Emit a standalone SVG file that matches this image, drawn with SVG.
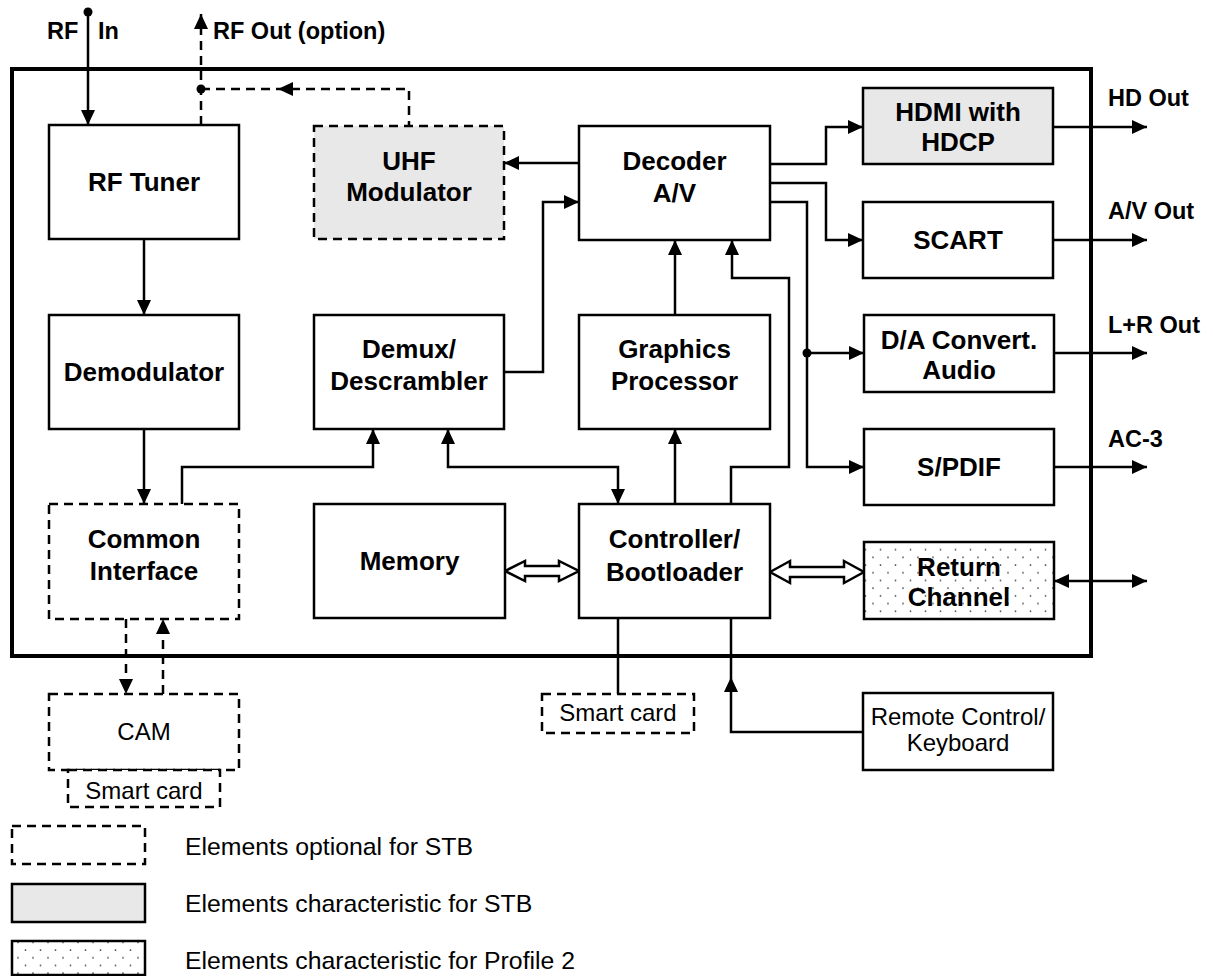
<svg xmlns="http://www.w3.org/2000/svg" width="1213" height="976" viewBox="0 0 1213 976">
<defs>
<style>
.box{fill:#fff;stroke:#000;stroke-width:2.5}
.gray{fill:#e8e8e8}
.dotted{fill:url(#dots)}
.dash{stroke-dasharray:9 6}
.ln{fill:none;stroke:#000;stroke-width:2.5}
.dl{fill:none;stroke:#000;stroke-width:2.5;stroke-dasharray:9 6}
.hol{fill:#fff;stroke:#000;stroke-width:2.5;stroke-linejoin:miter}
.b{font-family:"Liberation Sans",Arial,sans-serif;font-weight:bold;font-size:26px;text-anchor:middle;fill:#000}
.o{font-family:"Liberation Sans",Arial,sans-serif;font-weight:bold;font-size:23.5px;fill:#000}
.r{font-family:"Liberation Sans",Arial,sans-serif;font-size:24px;text-anchor:middle;fill:#000}
.lg{font-family:"Liberation Sans",Arial,sans-serif;font-size:24.8px;fill:#000}
</style>
<marker id="arr" markerUnits="userSpaceOnUse" markerWidth="16" markerHeight="14" refX="15" refY="7" orient="auto">
<path d="M0,0 L15,7 L0,14 z" fill="#000"/>
</marker>
<marker id="arrS" markerUnits="userSpaceOnUse" markerWidth="16" markerHeight="14" refX="15" refY="7" orient="auto-start-reverse">
<path d="M0,0 L15,7 L0,14 z" fill="#000"/>
</marker>
<pattern id="dots" width="15" height="15.4" patternUnits="userSpaceOnUse">
<rect width="15" height="15.4" fill="#fff"/>
<circle cx="3" cy="3" r="0.9" fill="#444"/>
<circle cx="10.5" cy="10.7" r="0.9" fill="#444"/>
</pattern>
</defs>
<rect width="1213" height="976" fill="#fff"/>

<rect id="frame" x="12" y="69" width="1079" height="587" fill="none" stroke="#000" stroke-width="4"/>

<g id="connectors">
<circle cx="88" cy="12" r="4.5" fill="#000"/>
<line class="ln" x1="88" y1="12" x2="88" y2="125" marker-end="url(#arr)"/>
<line class="dl" x1="201" y1="125" x2="201" y2="14" marker-end="url(#arr)"/>
<circle cx="201" cy="89" r="4.5" fill="#000"/>
<polyline class="dl" points="201,89 409,89 409,126"/>
<polygon points="278,89 293,82 293,96" fill="#000"/>
<line class="ln" x1="144" y1="239" x2="144" y2="315" marker-end="url(#arr)"/>
<line class="ln" x1="144" y1="429" x2="144" y2="504" marker-end="url(#arr)"/>
<polyline class="ln" points="182,504 182,467 373,467 373,429" marker-end="url(#arr)"/>
<polyline class="ln" points="448,429 448,467 618,467 618,504" marker-start="url(#arrS)" marker-end="url(#arr)"/>
<polyline class="ln" points="504,372 543,372 543,202 579,202" marker-end="url(#arr)"/>
<line class="ln" x1="579" y1="163" x2="504" y2="163" marker-end="url(#arr)"/>
<line class="ln" x1="675" y1="315" x2="675" y2="240" marker-end="url(#arr)"/>
<line class="ln" x1="675" y1="504" x2="675" y2="429" marker-end="url(#arr)"/>
<polyline class="ln" points="731,504 731,467 789,467 789,278 732,278 732,240" marker-end="url(#arr)"/>
<polyline class="ln" points="770,164 826,164 826,127 863,127" marker-end="url(#arr)"/>
<polyline class="ln" points="770,183 826,183 826,240 863,240" marker-end="url(#arr)"/>
<polyline class="ln" points="770,202 807,202 807,467 864,467" marker-end="url(#arr)"/>
<line class="ln" x1="807" y1="353" x2="864" y2="353" marker-end="url(#arr)"/>
<circle cx="807" cy="353" r="4.5" fill="#000"/>
<line class="ln" x1="1053" y1="127" x2="1147" y2="127" marker-end="url(#arr)"/>
<line class="ln" x1="1053" y1="240" x2="1147" y2="240" marker-end="url(#arr)"/>
<line class="ln" x1="1054" y1="353" x2="1147" y2="353" marker-end="url(#arr)"/>
<line class="ln" x1="1054" y1="467" x2="1147" y2="467" marker-end="url(#arr)"/>
<line class="ln" x1="1054" y1="581" x2="1147" y2="581" marker-start="url(#arrS)" marker-end="url(#arr)"/>
<polygon class="hol" points="505,571 525,561 525,566 559,566 559,561 579,571 559,581 559,576 525,576 525,581"/>
<polygon class="hol" points="770,572 790,561 790,567 844,567 844,561 864,572 844,583 844,577 790,577 790,583"/>
<line class="dl" x1="126" y1="619" x2="126" y2="694" marker-end="url(#arr)"/>
<line class="dl" x1="163" y1="694" x2="163" y2="619" marker-end="url(#arr)"/>
<line class="ln" x1="618" y1="618" x2="618" y2="694"/>
<polyline class="ln" points="863,732 731,732 731,618"/>
<polygon points="731,677 724,692 738,692" fill="#000"/>
</g>

<g id="labels-io">
<text class="o" x="47" y="39">RF</text>
<text class="o" x="98" y="39">In</text>
<text class="o" x="213" y="39">RF Out (option)</text>
<text class="o" x="1108" y="106">HD Out</text>
<text class="o" x="1108" y="219">A/V Out</text>
<text class="o" x="1108" y="333">L+R Out</text>
<text class="o" x="1108" y="447">AC-3</text>
</g>

<g id="rf-tuner"><rect class="box" x="49" y="125" width="190" height="114"/><text class="b" x="144" y="191">RF Tuner</text></g>
<g id="uhf-modulator"><rect class="box gray dash" x="314" y="126" width="190" height="113"/><text class="b" x="409" y="170">UHF</text><text class="b" x="409" y="201">Modulator</text></g>
<g id="decoder"><rect class="box" x="579" y="126" width="191" height="114"/><text class="b" x="674.5" y="170">Decoder</text><text class="b" x="674.5" y="202">A/V</text></g>
<g id="hdmi"><rect class="box gray" x="863" y="88" width="190" height="76"/><text class="b" x="958" y="121">HDMI with</text><text class="b" x="958" y="151">HDCP</text></g>
<g id="scart"><rect class="box" x="863" y="202" width="190" height="76"/><text class="b" x="958" y="249">SCART</text></g>
<g id="demodulator"><rect class="box" x="49" y="315" width="190" height="114"/><text class="b" x="144" y="381">Demodulator</text></g>
<g id="demux"><rect class="box" x="314" y="315" width="190" height="114"/><text class="b" x="409" y="358">Demux/</text><text class="b" x="409" y="390">Descrambler</text></g>
<g id="graphics"><rect class="box" x="579" y="315" width="191" height="114"/><text class="b" x="674.5" y="358">Graphics</text><text class="b" x="674.5" y="390">Processor</text></g>
<g id="da-convert"><rect class="box" x="864" y="315" width="190" height="77"/><text class="b" x="959" y="349">D/A Convert.</text><text class="b" x="959" y="379">Audio</text></g>
<g id="spdif"><rect class="box" x="864" y="429" width="190" height="76"/><text class="b" x="959" y="476">S/PDIF</text></g>
<g id="common-interface"><rect class="box dash" x="49" y="504" width="190" height="115"/><text class="b" x="144" y="548">Common</text><text class="b" x="144" y="580">Interface</text></g>
<g id="memory"><rect class="box" x="314" y="504" width="191" height="114"/><text class="b" x="409.5" y="570">Memory</text></g>
<g id="controller"><rect class="box" x="579" y="504" width="191" height="114"/><text class="b" x="674.5" y="548">Controller/</text><text class="b" x="674.5" y="581">Bootloader</text></g>
<g id="return-channel"><rect class="box dotted" x="864" y="542" width="190" height="77"/><text class="b" x="959" y="576">Return</text><text class="b" x="959" y="606">Channel</text></g>
<g id="cam"><rect class="box dash" x="49" y="694" width="190" height="76"/><text class="r" x="144" y="740">CAM</text></g>
<g id="smart-card-cam"><rect class="box dash" x="68" y="770" width="152" height="37"/><text class="r" x="144" y="799">Smart card</text></g>
<g id="smart-card"><rect class="box dash" x="542" y="694" width="152" height="39"/><text class="r" x="618" y="721">Smart card</text></g>
<g id="remote"><rect class="box" x="863" y="693" width="190" height="77"/><text class="r" x="958" y="725">Remote Control/</text><text class="r" x="958" y="751">Keyboard</text></g>

<g id="legend">
<rect class="box dash" x="12" y="826" width="133" height="38"/>
<rect class="box gray" x="12" y="884" width="133" height="38"/>
<rect class="box dotted" x="12" y="941" width="133" height="34"/>
<text class="lg" x="185" y="855">Elements optional for STB</text>
<text class="lg" x="185" y="912">Elements characteristic for STB</text>
<text class="lg" x="185" y="969">Elements characteristic for Profile 2</text>
</g>
</svg>
